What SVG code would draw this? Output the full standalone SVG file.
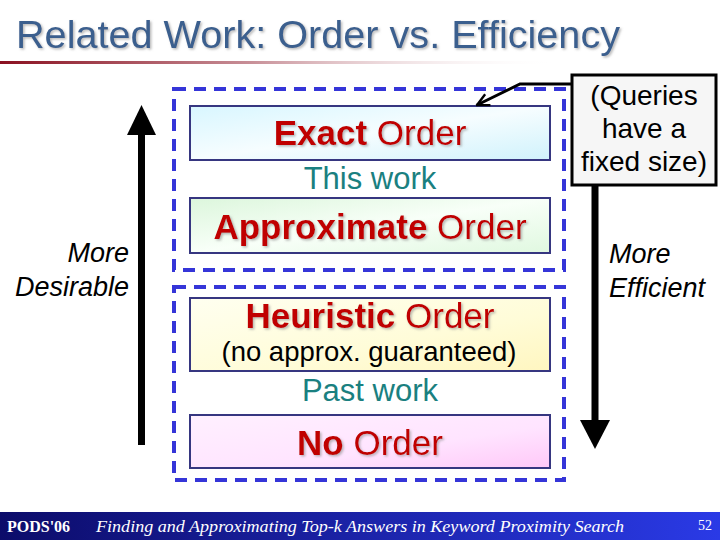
<svg xmlns="http://www.w3.org/2000/svg" width="720" height="540" viewBox="0 0 720 540">
<defs>
  <linearGradient id="rule" x1="0" y1="0" x2="1" y2="0">
    <stop offset="0" stop-color="#8a1020"/>
    <stop offset="0.45" stop-color="#c89098"/>
    <stop offset="1" stop-color="#ffffff" stop-opacity="0"/>
  </linearGradient>
  <linearGradient id="foot" x1="0" y1="0" x2="1" y2="0">
    <stop offset="0" stop-color="#0c0c6a"/>
    <stop offset="1" stop-color="#2a3ae6"/>
  </linearGradient>
  <linearGradient id="gExact" x1="0" y1="0" x2="1" y2="1">
    <stop offset="0" stop-color="#d8f6ff"/>
    <stop offset="0.5" stop-color="#f6fdff"/>
    <stop offset="1" stop-color="#d0f2fc"/>
  </linearGradient>
  <linearGradient id="gApprox" x1="0" y1="0" x2="1" y2="1">
    <stop offset="0" stop-color="#dcf6dc"/>
    <stop offset="0.5" stop-color="#f8fff8"/>
    <stop offset="1" stop-color="#e0f8e0"/>
  </linearGradient>
  <linearGradient id="gHeur" x1="0" y1="0" x2="1" y2="1">
    <stop offset="0" stop-color="#fffff0"/>
    <stop offset="0.6" stop-color="#fffcd8"/>
    <stop offset="1" stop-color="#fff6c0"/>
  </linearGradient>
  <linearGradient id="gNo" x1="0" y1="0" x2="1" y2="1">
    <stop offset="0" stop-color="#fff0ff"/>
    <stop offset="0.6" stop-color="#ffe4ff"/>
    <stop offset="1" stop-color="#ffc8f8"/>
  </linearGradient>
  <filter id="sh" x="-5%" y="-20%" width="110%" height="140%">
    <feDropShadow dx="1.5" dy="1.5" stdDeviation="0.8" flood-color="#888888" flood-opacity="0.6"/>
  </filter>
  <marker id="open" viewBox="0 0 10 10" refX="9" refY="5" markerWidth="5" markerHeight="5" orient="auto" markerUnits="strokeWidth">
    <path d="M1,1 L9,5 L1,9" fill="none" stroke="#000" stroke-width="1.6"/>
  </marker>
  <style>
    .sans { font-family: "Liberation Sans", Arial, sans-serif; }
    .box { stroke: #363680; stroke-width: 2; }
    .dash { fill: none; stroke: #3535d8; stroke-width: 4; stroke-dasharray: 12 8; }
    .red { fill: #c00000; }
    .teal { fill: #1a8080; }
    .big { font-size: 35px; }
    .lbl { font-size: 27px; font-style: italic; fill: #000; }
    .call { font-size: 28px; fill: #000; }
  </style>
</defs>

<rect width="720" height="540" fill="#ffffff"/>

<g id="title">
  <text x="16" y="48" class="sans" font-size="38" fill="#3b5f8e" filter="url(#sh)" textLength="604" lengthAdjust="spacingAndGlyphs">Related Work: Order vs. Efficiency</text>
  <rect x="0" y="61" width="560" height="3" fill="url(#rule)"/>
</g>

<g id="groups">
  <rect id="group-this" class="dash" x="174" y="89" width="390" height="181"/>
  <rect id="group-past" class="dash" x="174" y="287" width="390" height="193"/>
</g>

<g id="exact">
  <rect class="box" x="190" y="106" width="360" height="54" fill="url(#gExact)"/>
  <text class="sans big red" x="370" y="145" text-anchor="middle" filter="url(#sh)"><tspan font-weight="bold">Exact</tspan> Order</text>
</g>
<g id="this-work">
  <text class="sans teal" font-size="31" x="370" y="189" text-anchor="middle">This work</text>
</g>
<g id="approximate">
  <rect class="box" x="190" y="198" width="360" height="55" fill="url(#gApprox)"/>
  <text class="sans big red" x="370" y="239" text-anchor="middle" filter="url(#sh)"><tspan font-weight="bold">Approximate</tspan> Order</text>
</g>
<g id="heuristic">
  <rect class="box" x="190" y="298" width="360" height="73" fill="url(#gHeur)"/>
  <text class="sans big red" x="370" y="328" text-anchor="middle" filter="url(#sh)"><tspan font-weight="bold">Heuristic</tspan> Order</text>
  <text class="sans" font-size="27.5" x="369" y="361" text-anchor="middle" fill="#000">(no approx. guaranteed)</text>
</g>
<g id="past-work">
  <text class="sans teal" font-size="31" x="370" y="401" text-anchor="middle">Past work</text>
</g>
<g id="no-order">
  <rect class="box" x="190" y="415" width="360" height="53" fill="url(#gNo)"/>
  <text class="sans big red" x="370" y="455" text-anchor="middle" filter="url(#sh)"><tspan font-weight="bold">No</tspan> Order</text>
</g>

<g id="callout">
  <rect x="572" y="75" width="144" height="110" fill="#f6f6f6" stroke="#000" stroke-width="3"/>
  <text class="sans call" x="644" y="105" text-anchor="middle">(Queries</text>
  <text class="sans call" x="644" y="138" text-anchor="middle">have a</text>
  <text class="sans call" x="644" y="171" text-anchor="middle">fixed size)</text>
</g>

<g id="desirable">
  <text class="sans lbl" x="129" y="262" text-anchor="end">More</text>
  <text class="sans lbl" x="129" y="296" text-anchor="end">Desirable</text>
</g>
<g id="efficient">
  <text class="sans lbl" x="609" y="263" text-anchor="start">More</text>
  <text class="sans lbl" x="609" y="297" text-anchor="start">Efficient</text>
</g>

<g id="connectors">
  <line x1="141.5" y1="445" x2="141.5" y2="130" stroke="#000" stroke-width="7"/>
  <polygon points="141.5,105 127,135 156,135" fill="#000"/>
  <line x1="595" y1="186" x2="595" y2="425" stroke="#000" stroke-width="7"/>
  <polygon points="595,449 580,420 610,420" fill="#000"/>
  <polyline points="572,84 520,84 477,105" fill="none" stroke="#000" stroke-width="3" marker-end="url(#open)"/>
</g>

<g id="footer">
  <rect x="0" y="512" width="720" height="28" fill="url(#foot)"/>
  <text x="7" y="532" font-family="Liberation Serif, 'Times New Roman', serif" font-weight="bold" font-size="16" fill="#ffffff">PODS'06</text>
  <text x="96" y="532" font-family="Liberation Serif, 'Times New Roman', serif" font-style="italic" font-size="16" fill="#ffffff" textLength="528" lengthAdjust="spacingAndGlyphs">Finding and Approximating Top-k Answers in Keyword Proximity Search</text>
  <text x="712" y="530" font-family="Liberation Serif, 'Times New Roman', serif" font-size="14" fill="#ffffff" text-anchor="end">52</text>
</g>
</svg>
